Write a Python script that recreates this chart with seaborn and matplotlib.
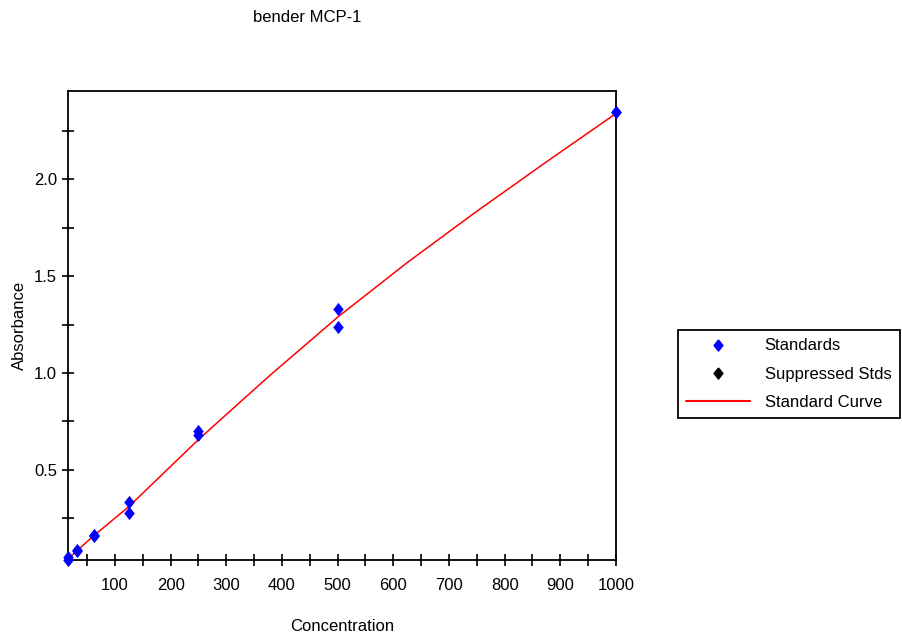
import seaborn as sns
import matplotlib.pyplot as plt
from matplotlib.lines import Line2D
from matplotlib.ticker import MultipleLocator

# Standards (duplicate wells)
conc = [15.625, 15.625, 31.25, 31.25, 62.5, 62.5, 125, 125, 250, 250, 500, 500, 1000, 1000]
absorb = [0.035, 0.05, 0.08, 0.085, 0.16, 0.165, 0.336, 0.279, 0.70, 0.68, 1.332, 1.235, 2.35, 2.345]

# Fitted standard curve, read at a few concentrations
curve_x = [15.625, 62.5, 125, 250, 375, 500, 625, 750, 875, 1000]
curve_y = [0.04, 0.161, 0.31, 0.656, 0.979, 1.288, 1.57, 1.835, 2.09, 2.34]

sns.set_style('white')
plt.rcParams['font.family'] = ['Liberation Sans', 'DejaVu Sans']
plt.rcParams['text.color'] = 'black'
plt.rcParams['axes.labelcolor'] = 'black'
plt.rcParams['xtick.color'] = 'black'
plt.rcParams['ytick.color'] = 'black'

# diamond a bit taller than wide
diamond = [(0, 1), (0.8, 0), (0, -1), (-0.8, 0), (0, 1)]

fig = plt.figure(figsize=(9.02, 6.4), dpi=100)
ax = fig.add_axes([68 / 902, 80 / 640, 548 / 902, 469 / 640])

sns.lineplot(x=curve_x, y=curve_y, color='red', linewidth=1.1, ax=ax)
sns.scatterplot(x=conc, y=absorb, color='blue', marker=diamond, s=75, edgecolor='blue',
                linewidth=0.5, ax=ax, clip_on=False, zorder=3)

ax.set_xlim(15.625, 1000)
ax.set_ylim(0.034, 2.456)
ax.xaxis.set_major_locator(MultipleLocator(100))
ax.xaxis.set_minor_locator(MultipleLocator(50))
ax.yaxis.set_major_locator(MultipleLocator(0.5))
ax.yaxis.set_minor_locator(MultipleLocator(0.25))
ax.set_xticks(range(100, 1001, 100))
ax.tick_params(which='both', direction='inout', length=8, width=1.2, color='black',
               bottom=True, left=True, top=False, right=False, labelsize=12)
ax.tick_params(axis='x', pad=9)
ax.tick_params(axis='y', pad=4)
for s in ax.spines.values():
    s.set_color('black')
    s.set_linewidth(1.3)

ax.set_xlabel('Concentration', fontsize=12)
ax.set_ylabel('Absorbance', fontsize=12)
ax.xaxis.set_label_coords(0.5, -0.125)
ax.yaxis.set_label_coords(-0.075, 0.5)

fig.text(307 / 902, 1 - 18 / 640, 'bender MCP-1', ha='center', va='center', fontsize=12)

handles = [
    Line2D([], [], marker=diamond, color='blue', linestyle='none', markersize=8),
    Line2D([], [], marker=diamond, color='black', linestyle='none', markersize=8),
    Line2D([], [], color='red', linewidth=1.5),
]
leg = fig.legend(handles, ['Standards', 'Suppressed Stds', 'Standard Curve'],
                 loc='upper left', bbox_to_anchor=(678 / 902, 1 - 330 / 640),
                 fontsize=12, frameon=True, fancybox=False, framealpha=1,
                 edgecolor='black', handlelength=3.8, handletextpad=0.9,
                 borderpad=0.5, labelspacing=0.8, borderaxespad=0)
leg.get_frame().set_linewidth(1.3)

plt.savefig('out.png', dpi=100)
